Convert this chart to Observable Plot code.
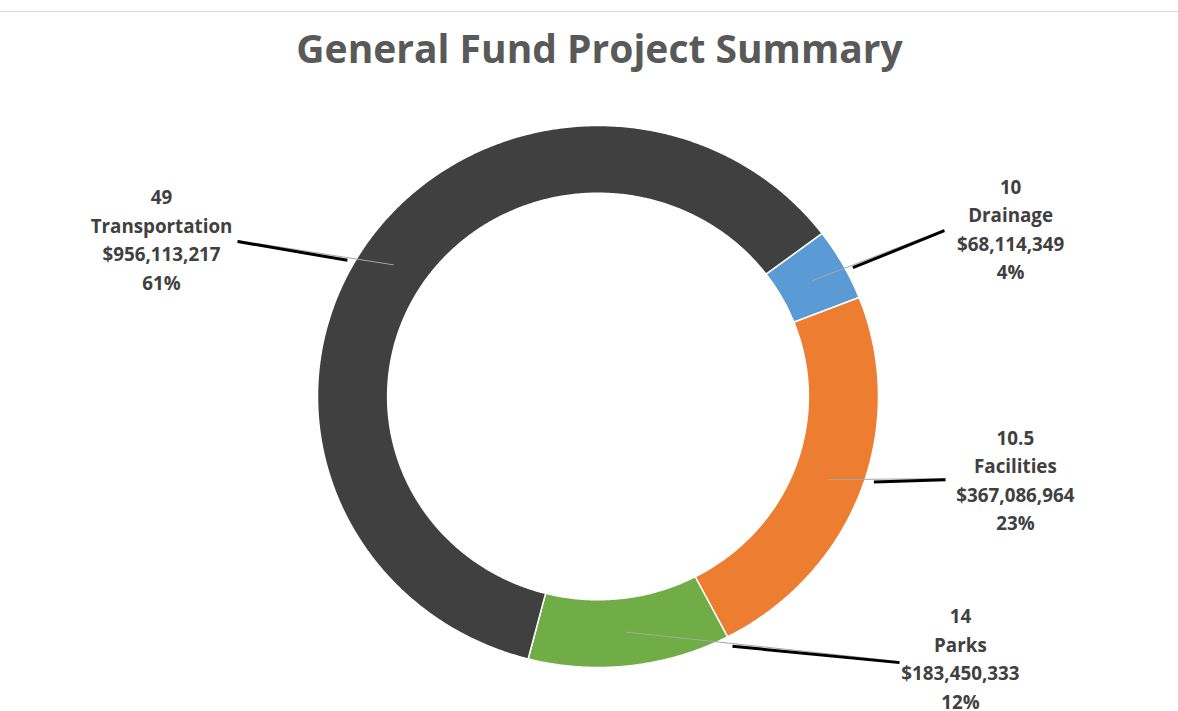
<!DOCTYPE html>
<html><head><meta charset="utf-8">
<script src="https://cdn.jsdelivr.net/npm/d3@7"></script>
<script src="https://cdn.jsdelivr.net/npm/@observablehq/plot@0.6"></script>
<style>
body{margin:0;background:#fff;}
#chart{position:relative;width:1178px;height:711px;overflow:hidden;}
#topline{position:absolute;left:0;top:11px;width:1178px;height:1px;background:#d9d9d9;}
</style></head><body>
<div id="chart"><div id="topline"></div></div>
<script>
// ---- data ----
const categories = ["Drainage", "Facilities", "Parks", "Transportation"];
const amounts = [68114349, 367086964, 183450333, 956113217];
const counts = ["10", "10.5", "14", "49"];
const colors = ["#5B9BD5", "#ED7D31", "#70AD47", "#404040"];
const title = "General Fund Project Summary";

// ---- layout ----
const startDeg = 53;   // first slice angle (clockwise from top)
const hole = 0.75;     // doughnut hole size
const labelPlace = {
  Transportation: {x: -1.556, y: -0.586, ax: -1.285, ay: -0.576},
  Drainage:       {x:  1.471, y: -0.624, ax:  1.235, ay: -0.616},
  Facilities:     {x:  1.488, y:  0.302, ax:  1.239, ay:  0.303},
  Parks:          {x:  1.292, y:  0.960, ax:  1.075, ay:  0.978}
};

const total = d3.sum(amounts);
let acc = 0;
const slices = categories.map((c, i) => {
  const a0 = startDeg + acc / total * 360;
  acc += amounts[i];
  const a1 = startDeg + acc / total * 360;
  return {name: c, a0, a1, amount: amounts[i], count: counts[i], pct: amounts[i] / total};
});

const rad = d => d * Math.PI / 180;
const pt = (deg, r) => [r * Math.sin(rad(deg)), -r * Math.cos(rad(deg))];

const ringPts = slices.flatMap(s => {
  const n = Math.max(2, Math.ceil((s.a1 - s.a0) / 0.5));
  const angs = d3.range(n + 1).map(k => s.a0 + (s.a1 - s.a0) * k / n);
  const pts = [];
  angs.forEach(a => { const [x, y] = pt(a, 1); pts.push({name: s.name, x, y}); });
  angs.slice().reverse().forEach(a => { const [x, y] = pt(a, hole); pts.push({name: s.name, x, y}); });
  return pts;
});

const fmt = d3.format(",");
const labels = slices.map(s => {
  const p = labelPlace[s.name];
  return {x: p.x, y: p.y, text: `${s.count}\n${s.name}\n$${fmt(s.amount)}\n${Math.round(s.pct * 100)}%`};
});

const leaders = slices.map(s => {
  const p = labelPlace[s.name];
  const [cx, cy] = pt((s.a0 + s.a1) / 2, (1 + hole) / 2);
  return {x1: cx, y1: cy, x2: p.ax, y2: p.ay};
});
const blacks = leaders.map(l => {
  // point along the leader where it leaves the ring (radius ~1.03)
  const dx = l.x2 - l.x1, dy = l.y2 - l.y1, R = 1.03;
  const A = dx * dx + dy * dy, B = 2 * (l.x1 * dx + l.y1 * dy), C = l.x1 * l.x1 + l.y1 * l.y1 - R * R;
  const t = (-B + Math.sqrt(B * B - 4 * A * C)) / (2 * A);
  return {x1: l.x1 + t * dx, y1: l.y1 + t * dy + 0.01, x2: l.x2, y2: l.y2 + 0.004};
});

const font = "'Open Sans', 'DejaVu Sans', sans-serif";
const plot = Plot.plot({
  width: 1178, height: 711, margin: 0,
  style: {background: "transparent"},
  x: {domain: [-1, 1], range: [317, 878], axis: null},
  y: {domain: [-1, 1], range: [125, 667], axis: null},
  color: {domain: categories, range: colors},
  marks: [
    Plot.line(ringPts, {x: "x", y: "y", z: "name", fill: "name", stroke: "white", strokeWidth: 1.5, curve: "linear-closed"}),
    Plot.link(leaders, {x1: "x1", y1: "y1", x2: "x2", y2: "y2", stroke: "#a6a6a6", strokeWidth: 1}),
    Plot.link(blacks, {x1: "x1", y1: "y1", x2: "x2", y2: "y2", stroke: "black", strokeWidth: 3}),
    Plot.text(labels, {x: "x", y: "y", text: "text", fontSize: 18.8, fontWeight: 700, fill: "#404040",
      lineHeight: 1.52, lineAnchor: "middle", fontFamily: font}),
    Plot.text([title], {frameAnchor: "top", dx: 10, dy: 50, lineAnchor: "middle", text: d => d,
      fontSize: 39, fontWeight: 700, fill: "#595959", fontFamily: font})
  ]
});
plot.style.position = "absolute";
plot.style.left = "0";
plot.style.top = "0";
document.getElementById("chart").appendChild(plot);
</script>
</body></html>
